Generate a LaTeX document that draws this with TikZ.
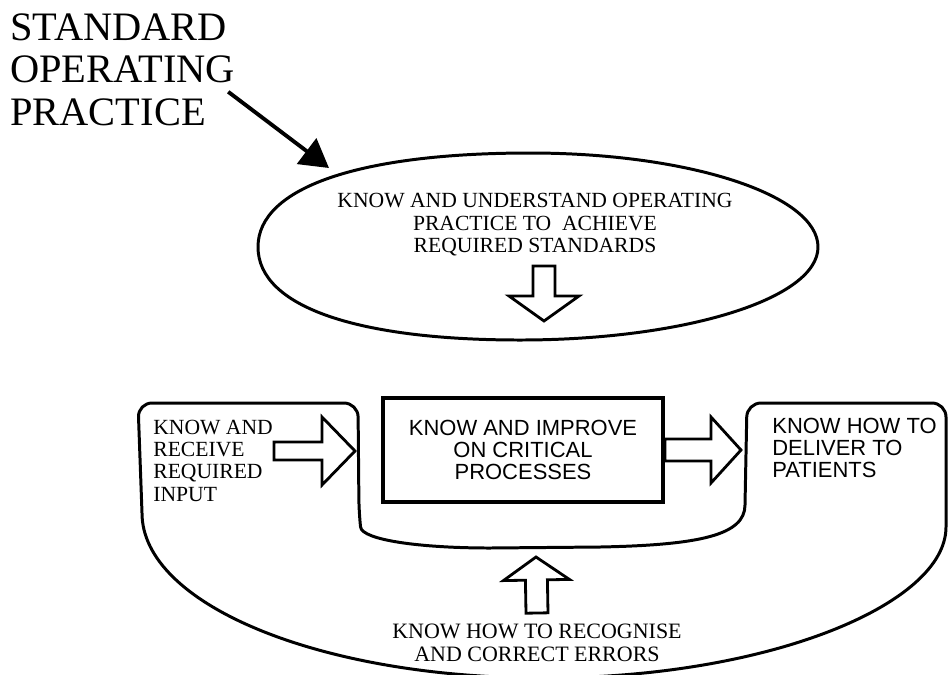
\documentclass[tikz,border=0pt]{standalone}
\usepackage{fontspec}
\setmainfont{Liberation Serif}
\setsansfont{Liberation Sans}
\usetikzlibrary{arrows.meta, shapes.geometric, positioning, calc}

\tikzset{
  outline/.style={line width=1.7pt, line join=round},
  hollow/.style={draw, line width=1.6pt, fill=white, line join=miter},
  serifsmall/.style={font=\fontsize{12.3}{12.6}\selectfont, inner sep=0pt},
  sanssmall/.style={font=\sffamily\fontsize{12.5}{12.6}\selectfont, inner sep=0pt},
}

% open block arrow: from, to, half shaft, half head, head length
\newcommand{\openarrow}[5]{%
  \coordinate (oa-h) at ($(#2)!#5!(#1)$);
  \draw[hollow] ($(#1)!#3!90:(#2)$) -- ($(oa-h)!#3!90:(#2)$) -- ($(oa-h)!#4!90:(#2)$) -- (#2)
    -- ($(oa-h)!#4!-90:(#2)$) -- ($(oa-h)!#3!-90:(#2)$) -- ($(#1)!#3!-90:(#2)$) -- cycle;}

\begin{document}
\begin{tikzpicture}[x=0.02cm, y=-0.02cm]
  \clip (0,0) rectangle (950,674);

  % heading
  \node[anchor=north west, inner sep=0pt, align=left, font=\fontsize{23}{24.4}\selectfont]
      (sop) at (10,13) {STANDARD\\OPERATING\\PRACTICE};
  \coordinate (soptip) at (329,168);
  \draw[line width=2.2pt, -{Triangle[length=16pt, width=18pt]}] ($(sop.east)+(-7,22)$) -- (soptip);

  % upper ellipse, a little blunter on the left
  \draw[outline] (258,247) .. controls (258,187) and (361,153) .. (530,153)
      .. controls (689,153) and (818,195) .. (818,247)
      .. controls (818,299) and (684,340) .. (520,340)
      .. controls (358,340) and (258,307) .. cycle;
  \node[serifsmall, anchor=north, align=center, font=\fontsize{12.3}{12.9}\selectfont]
      (knowtxt) at (535,193) {KNOW AND UNDERSTAND OPERATING\\PRACTICE TO~ ACHIEVE\\REQUIRED STANDARDS};
  \coordinate (kA) at (544,266);
  \coordinate (kB) at (544,321);
  \openarrow{kA}{kB}{0.22cm}{0.7cm}{0.5cm}

  % lower outline
  \draw[outline] (142,513) [rounded corners=8pt] -- (138,403) -- (358,403) -- (359,513) [sharp corners]
      .. controls (362,540) and (420,548) .. (490,548) -- (600,547)
      .. controls (700,545) and (745,535) .. (745,505) [rounded corners=8pt] -- (747,403) -- (946,403) -- (946,513) [sharp corners]
      .. controls (946,604) and (769,678) .. (544,678) .. controls (319,678) and (142,604) .. cycle;

  \node[draw, line width=2.2pt, minimum width=5.6cm, minimum height=2.08cm, align=center, sanssmall]
      (proc) at (523,450) {KNOW AND IMPROVE\\ON CRITICAL\\PROCESSES};
  \node[serifsmall, anchor=north west, align=left]
      (input) at (153,420) {KNOW AND\\RECEIVE\\REQUIRED\\INPUT};
  \node[sanssmall, anchor=north west, align=left]
      (deliver) at (772,418) {KNOW HOW TO\\DELIVER TO\\PATIENTS};
  \node[serifsmall, anchor=north, align=center, font=\fontsize{12.5}{13}\selectfont]
      (errors) at (537,624) {KNOW HOW TO RECOGNISE\\AND CORRECT ERRORS};

  % block arrows
  \coordinate (inA) at (274,451);
  \coordinate (inB) at (355,451);
  \openarrow{inA}{inB}{0.18cm}{0.68cm}{0.66cm}
  \coordinate (outB) at (741,450);
  \openarrow{proc.east}{outB}{0.22cm}{0.66cm}{0.6cm}
  \coordinate (errA) at ($(errors.north)+(0,-11)$);
  \coordinate (errB) at (536,557);
  \openarrow{errA}{errB}{0.22cm}{0.66cm}{0.46cm}
\end{tikzpicture}
\end{document}
